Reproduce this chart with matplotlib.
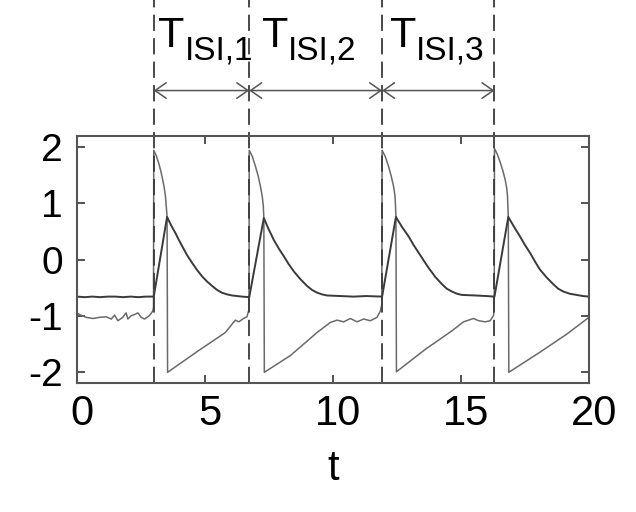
import matplotlib
matplotlib.use("Agg")
import matplotlib.pyplot as plt
from matplotlib.transforms import ScaledTranslation

plt.rcParams['font.family'] = ['Liberation Sans', 'DejaVu Sans']
plt.rcParams['axes.unicode_minus'] = False

# spike times (dashed lines)
spike_times = [3.0, 6.73, 11.92, 16.31]
isi_subscripts = ['ISI,1', 'ISI,2', 'ISI,3']
label_x = [3.18, 7.22, 12.22]

# dark trace
dark_t = [0, 0.3, 0.6, 0.9, 1.2, 1.5, 1.8, 2.1, 2.4, 2.7, 3.0,
          3.52, 3.68, 3.85, 3.98, 4.11, 4.30, 4.50, 4.70, 4.89, 5.08, 5.28, 5.47,
          5.66, 5.86, 6.06, 6.45, 6.73,
          7.30, 7.48, 7.69, 7.88, 8.08, 8.27, 8.47, 8.73, 8.99, 9.18, 9.38, 9.57,
          9.77, 10.29, 10.8, 11.3, 11.92,
          12.46, 12.70, 12.96, 13.15, 13.35, 13.55, 13.74, 14.00, 14.26, 14.45,
          14.65, 14.85, 15.04, 15.56, 16.0, 16.31,
          16.85, 17.08, 17.31, 17.50, 17.70, 17.90, 18.09, 18.35, 18.61, 18.80,
          19.00, 19.26, 19.52, 19.76, 20.0]
dark_v = [-0.66, -0.67, -0.66, -0.67, -0.66, -0.66, -0.67, -0.66, -0.67, -0.66, -0.66,
          0.76, 0.61, 0.47, 0.35, 0.24, 0.08, -0.06, -0.19, -0.30, -0.39, -0.47, -0.54,
          -0.59, -0.62, -0.64, -0.66, -0.67,
          0.74, 0.55, 0.35, 0.20, 0.06, -0.08, -0.21, -0.35, -0.47, -0.54, -0.59, -0.62,
          -0.64, -0.65, -0.66, -0.65, -0.66,
          0.76, 0.58, 0.41, 0.26, 0.12, -0.02, -0.15, -0.31, -0.44, -0.52,
          -0.57, -0.61, -0.63, -0.64, -0.65, -0.66,
          0.76, 0.58, 0.41, 0.26, 0.12, -0.04, -0.18, -0.32, -0.44, -0.52,
          -0.57, -0.61, -0.63, -0.65, -0.66]

# gray trace
gray_t = [0, 0.10, 0.36, 0.62, 0.88, 1.14, 1.34, 1.47, 1.60, 1.79, 1.92, 1.99,
          2.12, 2.25, 2.38, 2.51, 2.64, 2.83, 2.96, 2.99,
          3.0, 3.1, 3.20, 3.28, 3.35, 3.41, 3.46, 3.52, 3.54, 4.76, 5.80, 6.06, 6.19, 6.32,
          6.51, 6.64, 6.72,
          6.73, 6.85, 6.98, 7.08, 7.17, 7.24, 7.28, 7.30, 7.32, 8.34, 9.38, 9.90, 10.16, 10.42,
          10.68, 10.94, 11.20, 11.46, 11.72, 11.85, 11.91,
          11.92, 12.05, 12.18, 12.28, 12.37, 12.42, 12.44, 12.46, 12.48, 13.61, 14.65, 15.10,
          15.30, 15.49, 15.69, 15.95, 16.14, 16.27, 16.30,
          16.31, 16.42, 16.53, 16.64, 16.73, 16.79, 16.82, 16.85, 16.87, 18.09, 19.13, 20.0]
gray_v = [-0.95, -0.98, -1.03, -1.05, -1.03, -1.02, -1.06, -0.99, -1.09, -1.03, -0.95, -1.06,
          -1.00, -0.98, -0.95, -1.03, -1.06, -1.00, -0.92, -0.85,
          1.95, 1.85, 1.71, 1.57, 1.42, 1.28, 1.12, 0.76, -2.01, -1.62, -1.30, -1.15, -1.08, -1.11,
          -1.05, -1.02, -0.89,
          1.95, 1.84, 1.65, 1.49, 1.30, 1.12, 0.95, 0.74, -2.01, -1.71, -1.30, -1.12, -1.08, -1.11,
          -1.05, -1.11, -1.06, -1.09, -1.03, -0.92, -0.80,
          1.95, 1.83, 1.65, 1.48, 1.30, 1.15, 1.00, 0.76, -2.00, -1.60, -1.27, -1.11,
          -1.08, -1.05, -1.09, -1.11, -1.09, -1.00, -0.89,
          1.98, 1.88, 1.74, 1.58, 1.42, 1.27, 1.12, 0.76, -2.01, -1.65, -1.33, -1.03]

fig = plt.figure(figsize=(6.36, 5.12), dpi=100)
ax = fig.add_axes([0.121, 0.252, 0.805, 0.482])

ax.plot(gray_t, gray_v, color='#6a6a6a', lw=1.1)
ax.plot(dark_t, dark_v, color='#3a3a3a', lw=1.4)

# dashed spike markers, running up past the top of the axes
for ts in spike_times:
    ax.axvline(ts, ymin=0, ymax=1.55, color='#3a3a3a', lw=1.3,
               dashes=(9, 4), clip_on=False)

# interspike interval arrows + labels
for i in range(len(isi_subscripts)):
    ax.annotate('', xy=(spike_times[i + 1], 1.185), xytext=(spike_times[i], 1.185),
                xycoords=('data', 'axes fraction'), textcoords=('data', 'axes fraction'),
                arrowprops=dict(arrowstyle='<->,head_length=0.5,head_width=0.35',
                                color='#555555', lw=1.1, shrinkA=0, shrinkB=0,
                                mutation_scale=16))
    big_t = ax.text(label_x[i], 1.36, 'T', transform=ax.get_xaxis_transform(),
                    fontsize=31, ha='left', va='baseline')
    ax.annotate(isi_subscripts[i], xy=(1, 0), xycoords=big_t, xytext=(0, -2),
                textcoords='offset points', fontsize=24, ha='left', va='baseline')

ax.set_xlim(0, 20)
ax.set_ylim(-2.2, 2.2)
ax.set_xticks([0, 5, 10, 15, 20])
ax.set_yticks([-2, -1, 0, 1, 2])
ax.tick_params(direction='in', length=6, width=1.3, top=True, right=True,
               color='#444444')
ax.tick_params(axis='x', pad=8, labelsize=30)
ax.tick_params(axis='y', pad=10, labelsize=28)
for lbl in ax.get_xticklabels():
    lbl.set_transform(lbl.get_transform() + ScaledTranslation(0.05, 0, fig.dpi_scale_trans))
for s in ax.spines.values():
    s.set_color('#555555')
    s.set_linewidth(1.5)
ax.set_xlabel('t', fontsize=30, labelpad=11)

fig.savefig('out.png', dpi=100)
